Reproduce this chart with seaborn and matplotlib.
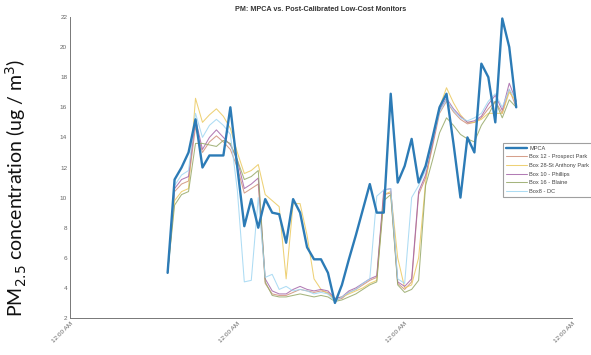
import matplotlib
matplotlib.use("Agg")
import matplotlib.pyplot as plt
import seaborn as sns
import numpy as np
import pandas as pd

# hours since the first "12:00 AM" tick (hourly readings, 14:00 day 1 -> 16:00 day 3)
hours = list(range(14, 65))

mpca = [5.0, 11.2, 12.0, 13.0, 15.2, 12.0, 12.8, 12.8, 12.8, 16.0,
        12.0, 8.1, 9.9, 8.0, 9.9, 9.0, 8.9, 7.0, 9.9, 9.0,
        6.7, 5.9, 5.9, 5.0, 3.0, 4.2, 5.9, 7.5, 9.2, 10.9,
        9.0, 9.0, 16.9, 11.0, 12.1, 13.9, 11.0, 12.1, 14.0, 16.0,
        16.9, 13.6, 10.0, 14.0, 13.0, 18.9, 18.0, 15.0, 21.9, 20.0,
        16.0]

box12 = [5.0, 10.4, 10.9, 11.1, 14.7, 13.0, 13.7, 14.1, 13.7, 13.2,
         12.0, 10.3, 10.6, 10.9, 4.3, 3.6, 3.5, 3.5, 3.7, 3.9,
         3.8, 3.7, 3.8, 3.7, 3.2, 3.3, 3.7, 3.9, 4.2, 4.5,
         4.7, 10.2, 10.3, 4.3, 3.9, 4.4, 10.2, 11.3, 13.4, 15.6,
         16.4, 15.7, 15.2, 14.9, 15.0, 15.3, 15.9, 16.4, 15.6, 17.2,
         16.0]

box28 = [5.0, 9.8, 10.4, 10.6, 16.6, 15.0, 15.5, 15.9, 15.4, 14.6,
         13.0, 11.6, 11.8, 12.2, 10.2, 9.8, 9.4, 4.6, 9.6, 9.6,
         7.5, 4.6, 3.9, 3.6, 3.3, 3.4, 3.6, 3.8, 4.0, 4.3,
         4.5, 10.2, 10.4, 6.0, 4.0, 4.2, 6.0, 11.0, 13.8, 16.0,
         17.3, 16.3, 15.5, 15.0, 15.0, 15.2, 15.6, 15.6, 15.6, 17.0,
         16.4]

box10 = [5.0, 10.6, 11.2, 11.4, 15.2, 13.2, 14.0, 14.5, 14.0, 13.5,
         12.5, 10.6, 10.9, 11.3, 4.6, 3.8, 3.6, 3.6, 3.9, 4.1,
         3.9, 3.8, 3.9, 3.8, 3.3, 3.4, 3.8, 4.0, 4.3, 4.6,
         4.8, 10.5, 10.6, 4.4, 4.1, 4.6, 10.4, 11.5, 13.6, 15.8,
         16.6, 15.9, 15.4, 15.0, 15.1, 15.4, 16.2, 16.8, 15.8, 17.6,
         16.4]

box16 = [5.0, 9.5, 10.2, 10.4, 13.6, 13.6, 13.5, 13.4, 13.8, 13.6,
         12.5, 11.2, 11.4, 11.8, 4.4, 3.5, 3.4, 3.4, 3.5, 3.6,
         3.5, 3.4, 3.5, 3.4, 3.1, 3.2, 3.4, 3.6, 3.9, 4.2,
         4.4, 9.8, 10.2, 4.2, 3.7, 3.9, 4.5, 10.8, 12.5, 14.3,
         15.3, 14.8, 14.2, 13.9, 13.7, 14.8, 15.5, 16.4, 15.3, 16.5,
         16.0]

box8 = [5.0, 10.8, 11.5, 11.8, 15.6, 14.0, 14.8, 15.2, 14.8, 14.2,
        10.5, 4.4, 4.5, 10.0, 4.7, 4.9, 3.9, 4.1, 3.8, 3.9,
        3.8, 3.6, 3.7, 3.6, 3.1, 3.4, 3.7, 3.9, 4.3, 4.6,
        10.1, 10.5, 10.6, 4.6, 4.3, 10.0, 10.8, 11.8, 13.8, 15.7,
        16.5, 15.8, 15.3, 15.1, 15.3, 15.6, 16.4, 16.9, 16.0, 17.2,
        16.5]

series_names = ["MPCA", "Box 12 - Prospect Park", "Box 28-St Anthony Park",
                "Box 10 - Phillips", "Box 16 - Blaine", "Box8 - DC"]
series_values = [mpca, box12, box28, box10, box16, box8]

x_ticks = [0, 24, 48, 72]
x_tick_labels = ["12:00 AM", "12:00 AM", "12:00 AM", "12:00 AM"]
y_ticks = [2, 4, 6, 8, 10, 12, 14, 16, 18, 20, 22]

colors = ["#2c7bb6", "#cf8f78", "#ebc95e", "#a565a8", "#96a867", "#9fd6f2"]
widths = [1.7, 0.75, 0.75, 0.75, 0.75, 0.75]
alphas = [1.0, 0.85, 0.85, 0.85, 0.85, 0.85]

sns.set_style("white")
plt.rcParams["font.family"] = ["Liberation Sans", "DejaVu Sans"]

fig = plt.figure(figsize=(5.91, 3.55), dpi=100)
ax = fig.add_axes([70 / 591, 1 - 318 / 355, (572 - 70) / 591, (318 - 17) / 355])

df = pd.DataFrame({"hour": hours})
for name, vals in zip(series_names, series_values):
    df[name] = vals
long = df.melt(id_vars="hour", var_name="series", value_name="pm")

# draw secondary monitors first, MPCA on top of them
order = series_names[1:] + series_names[:1]
for name in order:
    i = series_names.index(name)
    sub = long[long["series"] == name]
    sns.lineplot(data=sub, x="hour", y="pm", ax=ax, color=colors[i],
                 linewidth=widths[i], alpha=alphas[i], label=name,
                 zorder=3 if i == 0 else 2)

ax.set_xlim(0, 72)
ax.set_ylim(2, 22)
ax.set_xticks(x_ticks)
ax.set_xticklabels(x_tick_labels, rotation=45, ha="right", rotation_mode="anchor",
                   fontsize=4.6, color="#666666")
ax.set_yticks(y_ticks)
ax.set_yticklabels([str(v) for v in y_ticks], fontsize=4.6, color="#666666")
ax.tick_params(axis="both", direction="in", length=3, width=0.6, color="#777777", pad=2)
ax.set_xlabel("")
ax.set_ylabel("")
for s in ["top", "right"]:
    ax.spines[s].set_visible(False)
for s in ["left", "bottom"]:
    ax.spines[s].set_color("#777777")
    ax.spines[s].set_linewidth(0.7)

ax.set_title("PM: MPCA vs. Post-Calibrated Low-Cost Monitors", fontsize=5.2,
             fontweight="bold", color="#333333", pad=4)

handles, labels = ax.get_legend_handles_labels()
hmap = dict(zip(labels, handles))
leg = ax.legend([hmap[n] for n in series_names], series_names,
                loc="upper left", bbox_to_anchor=(0.8625, 0.583),
                borderaxespad=0, fontsize=4.1, frameon=True, fancybox=False,
                handlelength=3.6, handletextpad=0.4, labelspacing=0.62,
                borderpad=0.6, edgecolor="#888888")
leg.get_frame().set_linewidth(0.8)
for t in leg.get_texts():
    t.set_color("#444444")

fig.text(0.027, 0.47, "PM$_{2.5}$ concentration (ug / m$^3$)", rotation=90,
         ha="center", va="center", fontsize=14, family=["Lato", "DejaVu Sans"],
         color="#111111")

fig.savefig("out.png", dpi=100)
